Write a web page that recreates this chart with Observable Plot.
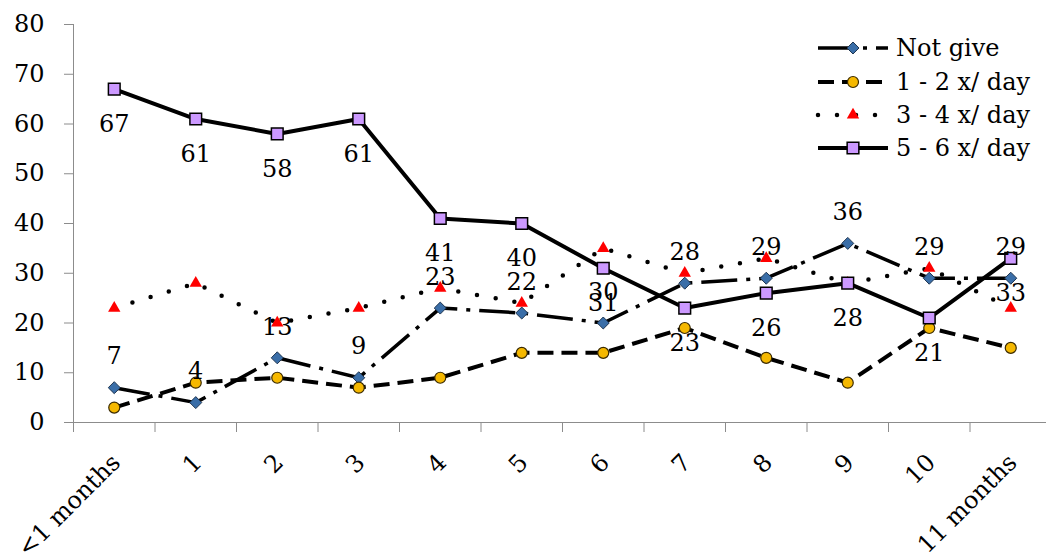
<!DOCTYPE html>
<html><head><meta charset="utf-8">
<script src="https://cdn.jsdelivr.net/npm/d3@7"></script>
<script src="https://cdn.jsdelivr.net/npm/@observablehq/plot@0.6"></script>
<style>
body{margin:0;background:#fff;}
#wrap{position:relative;width:1046px;height:559px;overflow:hidden;font-family:"DejaVu Serif",serif;}
#chart svg text{fill:#000;}
#legend{position:absolute;left:0;top:0;}
</style></head><body><div id="wrap"><div id="chart"></div><svg id="legend" width="1046" height="200"></svg></div>
<script>
const categories = ["<1 months","1","2","3","4","5","6","7","8","9","10","11 months"];
const notGive = [7,4,13,9,23,22,20,28,29,36,29,29];
const notGiveLabels = [7,4,13,9,23,22,30,28,29,36,29,29];
const perDay12 = [3,8,9,7,9,14,14,19,13,8,19,15];
const perDay34 = [23,28,20,23,27,24,35,30,33,28,31,23];
const perDay56 = [67,61,58,61,41,40,31,23,26,28,21,33];
const perDay56Labels = [67,61,58,61,41,40,31,23,26,28,21,33];
const yTicks = [0,10,20,30,40,50,60,70,80];
const seriesNames = ["Not give","1 - 2 x/ day","3 - 4 x/ day","5 - 6 x/ day"];

const styles = [
  {dash:"36,9,4,9", width:3.5, symbol:"diamond2", r:5.4, fill:"#3a6ea8", stroke:"#1f3550", sw:1, cap:"butt"},
  {dash:"16,8", width:4, symbol:"circle", r:5.5, fill:"#f5b800", stroke:"#3a2a00", sw:1.2, cap:"butt"},
  {dash:"0,19", width:4.5, symbol:"triangle", r:4.6, fill:"#ff0000", stroke:"none", sw:0, cap:"round"},
  {dash:null, width:4, symbol:"square", r:6.6, fill:"#cc99ff", stroke:"#000", sw:1.5, cap:"butt"}
];
const seriesValues = [notGive, perDay12, perDay34, perDay56];
const rows = seriesValues.map(vals => vals.map((v,i)=>({i, v})));
const ngLabelRows = notGiveLabels.map((t,i)=>({i, v: notGive[i], t}));
const s56LabelRows = perDay56Labels.map((t,i)=>({i, v: perDay56[i], t}));
const catRows = categories.map((c,i)=>({i, c}));
const boundaries = d3.range(categories.length + 1).map(k => k - 0.5);

const marks = [];
rows.forEach((r, k) => {
  const s = styles[k];
  marks.push(Plot.line(r, {x:"i", y:"v", stroke:"#000", strokeWidth:s.width, strokeDasharray:s.dash || undefined, strokeLinecap:s.cap, strokeLinejoin:"round"}));
});
rows.forEach((r, k) => {
  const s = styles[k];
  marks.push(Plot.dot(r, {x:"i", y:"v", symbol:s.symbol, r:s.r, fill:s.fill, stroke:s.stroke, strokeWidth:s.sw}));
});
marks.push(Plot.text(ngLabelRows, {x:"i", y:"v", text:d=>String(d.t), dy:-31, fontSize:24}));
marks.push(Plot.text(s56LabelRows, {x:"i", y:"v", text:d=>String(d.t), dy:35, fontSize:24}));
marks.push(Plot.text(catRows, {x:"i", y:d=>0, text:"c", rotate:-45, textAnchor:"end", dx:2, dy:36, fontSize:24}));

const chart = Plot.plot({
  width:1046, height:559,
  marginLeft:73, marginRight:0, marginTop:24, marginBottom:137,
  style:{fontFamily:"DejaVu Serif", fontSize:"24px", color:"#8c8c8c", background:"#fff"},
  x:{type:"linear", domain:[-0.5, 11.5], range:[73, 1051], ticks:boundaries, tickFormat:()=>"", tickSize:10, line:true, label:null},
  y:{domain:[0,80], ticks:yTicks, tickSize:9, tickPadding:20, line:true, label:null},
  marks
});
document.getElementById("chart").appendChild(chart);

// legend
const lg = d3.select("#legend");
const rowY = [48, 82, 115, 148];
const sym = {diamond2: d3.symbolDiamond2, circle: d3.symbolCircle, triangle: d3.symbolTriangle, square: d3.symbolSquare};
seriesNames.forEach((name, k) => {
  const s = styles[k];
  const y = rowY[k];
  lg.append("line").attr("x1", 818).attr("x2", 888).attr("y1", y).attr("y2", y)
    .attr("stroke", "#000").attr("stroke-width", s.width)
    .attr("stroke-dasharray", s.dash || null).attr("stroke-linecap", s.cap);
  lg.append("path").attr("transform", `translate(853,${y})`)
    .attr("d", d3.symbol(sym[s.symbol], Math.PI * s.r * s.r)())
    .attr("fill", s.fill).attr("stroke", s.stroke).attr("stroke-width", s.sw);
  lg.append("text").attr("x", 896).attr("y", y).attr("dy", "0.35em")
    .attr("font-family", "DejaVu Serif").attr("font-size", 24).attr("fill", "#000").text(name);
});
</script></body></html>
